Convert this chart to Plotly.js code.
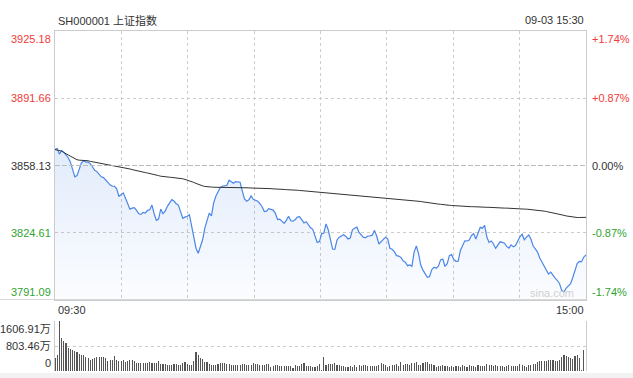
<!DOCTYPE html>
<html><head><meta charset="utf-8">
<script src="https://cdn.plot.ly/plotly-3.0.1.min.js"></script>
<style>html,body{margin:0;padding:0;background:#fff;}#chart{width:633px;height:378px;}</style>
</head><body><div id="chart"></div>
<script>
// ---- data ----
const title = "SH000001 上证指数";
const stamp = "09-03 15:30";
const preClose = 3858.13;
const priceTicks = [3925.18, 3891.66, 3858.13, 3824.61, 3791.09];
const pctTicks = ["+1.74%", "+0.87%", "0.00%", "-0.87%", "-1.74%"];
const volTicks = [1606.91, 803.46, 0];
const volTickText = ["1606.91万", "803.46万", "0"];
const timeLabels = ["09:30", "15:00"];

const price = [
3866.1,3866.6,3863.8,3865.6,3864.8,3863.5,3862.0,3859.8,3856.5,3852.5,
3853.1,3856.5,3859.5,3860.5,3859.8,3859.8,3859.1,3857.5,3855.8,3855.1,
3853.8,3852.5,3852.1,3850.8,3849.8,3848.5,3847.8,3847.8,3846.5,3842.8,
3843.6,3844.5,3841.8,3838.6,3836.4,3836.9,3837.1,3835.8,3834.1,3833.8,
3834.8,3834.4,3835.8,3836.1,3838.4,3834.1,3830.8,3831.4,3836.4,3834.1,
3835.4,3837.8,3839.4,3841.1,3840.4,3839.1,3838.4,3835.4,3831.8,3832.4,
3832.8,3833.6,3827.8,3821.1,3816.9,3814.4,3817.8,3821.1,3826.9,3830.4,
3834.4,3833.0,3839.5,3842.8,3844.8,3847.2,3847.8,3848.0,3848.3,3850.8,
3849.8,3849.3,3850.1,3849.8,3849.8,3845.5,3841.5,3840.3,3841.0,3843.0,
3841.3,3840.8,3840.3,3839.1,3837.6,3835.2,3835.4,3836.6,3836.1,3835.9,
3834.3,3831.2,3831.4,3830.3,3829.3,3830.8,3832.8,3830.6,3830.4,3831.1,
3832.4,3832.6,3830.8,3829.5,3830.1,3828.4,3827.1,3826.3,3823.2,3819.8,
3820.2,3824.1,3824.4,3829.0,3826.1,3821.5,3816.5,3816.3,3821.0,3822.4,
3823.1,3823.6,3822.8,3821.5,3822.0,3826.1,3826.9,3827.4,3824.8,3823.3,
3822.3,3822.2,3823.0,3823.1,3823.4,3825.8,3823.0,3819.0,3820.2,3821.4,
3822.4,3821.6,3816.9,3816.4,3815.2,3813.2,3813.0,3812.3,3810.6,3809.9,
3808.2,3808.6,3807.9,3815.0,3818.0,3814.2,3808.5,3806.0,3804.1,3802.4,
3802.8,3806.2,3807.4,3806.9,3807.9,3811.1,3811.5,3807.8,3809.2,3813.2,
3813.7,3811.3,3810.4,3810.5,3815.8,3818.1,3820.6,3820.5,3821.0,3823.2,
3824.2,3821.5,3824.0,3827.3,3826.9,3828.3,3822.5,3819.8,3820.5,3819.0,
3816.8,3818.2,3820.1,3819.8,3819.4,3817.8,3817.0,3818.6,3817.6,3818.2,
3820.6,3822.6,3823.9,3821.1,3822.4,3823.5,3821.5,3818.0,3816.6,3815.0,
3812.0,3810.0,3808.0,3806.5,3804.0,3805.0,3803.2,3802.0,3800.8,3799.2,
3795.8,3795.2,3797.0,3798.0,3799.2,3802.3,3806.0,3809.3,3810.3,3810.2,
3812.5,3813.6];

const avgPrice = [
3866.1,3865.9,3865.6,3865.3,3864.6,3864.0,3863.2,3862.6,3862.0,3861.5,
3861.0,3860.8,3860.8,3860.8,3860.7,3860.5,3860.2,3860.0,3859.8,3859.6,
3859.3,3859.1,3858.9,3858.8,3858.6,3858.4,3858.3,3858.1,3857.9,3857.7,
3857.5,3857.2,3857.0,3856.7,3856.4,3856.1,3855.8,3855.6,3855.3,3855.1,
3854.9,3854.6,3854.4,3854.2,3854.0,3853.7,3853.4,3853.1,3852.8,3852.6,
3852.5,3852.4,3852.3,3852.2,3852.1,3852.0,3851.9,3851.7,3851.5,3851.2,
3850.9,3850.6,3850.2,3849.7,3849.2,3848.7,3848.3,3848.0,3847.7,3847.5,
3847.4,3847.4,3847.3,3847.3,3847.3,3847.3,3847.3,3847.3,3847.3,3847.3,
3847.3,3847.3,3847.3,3847.2,3847.2,3847.1,3847.1,3847.0,3847.0,3846.9,
3846.9,3846.9,3846.8,3846.8,3846.8,3846.7,3846.7,3846.6,3846.6,3846.5,
3846.5,3846.4,3846.4,3846.3,3846.2,3846.1,3846.1,3846.0,3845.9,3845.9,
3845.8,3845.7,3845.6,3845.5,3845.4,3845.3,3845.3,3845.2,3845.1,3845.0,
3844.9,3844.8,3844.7,3844.7,3844.6,3844.5,3844.4,3844.3,3844.2,3844.2,
3844.1,3844.0,3843.9,3843.8,3843.7,3843.6,3843.5,3843.4,3843.3,3843.2,
3843.1,3843.0,3842.9,3842.8,3842.7,3842.6,3842.5,3842.4,3842.2,3842.1,
3841.9,3841.8,3841.7,3841.6,3841.5,3841.4,3841.3,3841.2,3841.1,3841.0,
3840.9,3840.8,3840.7,3840.6,3840.5,3840.3,3840.2,3840.0,3839.8,3839.7,
3839.5,3839.3,3839.1,3839.0,3838.9,3838.8,3838.6,3838.5,3838.4,3838.3,
3838.2,3838.1,3838.0,3837.9,3837.9,3837.8,3837.8,3837.7,3837.7,3837.6,
3837.6,3837.5,3837.5,3837.5,3837.4,3837.4,3837.3,3837.3,3837.2,3837.2,
3837.1,3837.1,3837.0,3837.0,3836.9,3836.9,3836.8,3836.8,3836.7,3836.6,
3836.6,3836.5,3836.5,3836.4,3836.4,3836.3,3836.3,3836.2,3836.1,3836.0,
3835.8,3835.6,3835.4,3835.2,3835.0,3834.8,3834.6,3834.3,3834.0,3833.8,
3833.5,3833.3,3833.0,3832.8,3832.6,3832.4,3832.3,3832.2,3832.2,3832.2,
3832.3,3832.3];

const volume = [
420,510,1607,1050,970,900,740,700,670,650,
610,560,520,500,440,410,350,380,420,460,
460,460,460,410,310,340,340,480,340,320,
330,350,300,310,340,340,320,270,260,250,
250,250,250,290,270,250,270,310,220,220,
210,180,180,190,210,210,190,200,260,290,
230,200,200,320,600,500,430,370,280,280,
220,200,190,200,230,250,260,250,230,210,
200,190,200,200,190,230,210,200,180,190,
250,230,210,180,190,200,230,240,120,170,
180,180,160,170,170,170,160,160,110,200,
150,160,230,250,160,150,150,120,120,150,
240,30,447,180,223,223,223,255,202,181,
160,149,128,138,160,138,181,128,191,170,
181,181,170,160,160,160,160,202,245,213,
191,138,170,181,191,223,149,287,202,213,
223,202,245,266,277,181,202,255,287,277,
223,234,202,138,149,160,191,149,170,138,
170,138,160,160,138,191,149,138,191,160,
160,138,191,160,149,149,223,191,181,160,
181,149,160,149,138,160,181,170,149,170,
160,223,181,170,138,181,191,213,234,287,
319,319,319,330,340,351,351,319,319,351,
436,511,479,436,404,372,479,511,420,30,
670];

// ---- chart ----
const idx = price.map((_, i) => i);
const vidx = volume.map((_, i) => i);
const N = 241;
const F = "Liberation Sans, Arial, Noto Sans CJK SC, sans-serif";
const red = "#f33a3a", green = "#2fa32f", dark = "#333333";
const lblColors = [red, red, dark, green, green];

const traces = [
  {x: idx, y: price, type: "scatter", mode: "lines", fill: "tozeroy",
   line: {color: "#4a86e8", width: 1.2},
   fillgradient: {type: "vertical", start: priceTicks[4], stop: 3866,
     colorscale: [[0, "rgba(74,134,232,0.02)"], [1, "rgba(74,134,232,0.16)"]]},
   xaxis: "x", yaxis: "y", hoverinfo: "skip"},
  {x: idx, y: avgPrice, type: "scatter", mode: "lines",
   line: {color: "#333333", width: 1}, xaxis: "x", yaxis: "y", hoverinfo: "skip"},
  {x: vidx, y: volume, type: "bar", marker: {color: "#555555", line: {width: 0}},
   width: 0.5, xaxis: "x2", yaxis: "y2", hoverinfo: "skip"}
];

const vgrid = [1,2,3,4,5,6,7].map(k => k * N / 8);
const annotations = [];
priceTicks.forEach((v, k) => {
  const ya = k === 0 ? "top" : (k === 4 ? "bottom" : "middle");
  annotations.push({xref: "paper", yref: "y", x: 0, y: v, xanchor: "right", yanchor: ya,
    xshift: -2, text: v.toFixed(2), showarrow: false, font: {family: F, size: 11, color: lblColors[k]}});
  annotations.push({xref: "paper", yref: "y", x: 1, y: v, xanchor: "left", yanchor: ya,
    xshift: 4, text: pctTicks[k], showarrow: false, font: {family: F, size: 11, color: lblColors[k]}});
});
volTicks.forEach((v, k) => {
  const ya = k === 0 ? "top" : (k === 2 ? "bottom" : "middle");
  annotations.push({xref: "paper", yref: "y2", x: 0, y: v, xanchor: "right", yanchor: ya,
    xshift: -2, text: volTickText[k], showarrow: false, font: {family: F, size: 11, color: dark}});
});
annotations.push({xref: "paper", yref: "paper", x: 0, y: 1.032, xanchor: "left", yanchor: "middle",
  xshift: 1, text: title, showarrow: false, font: {family: F, size: 11, color: dark}});
annotations.push({xref: "paper", yref: "paper", x: 1, y: 1.032, xanchor: "right", yanchor: "middle",
  text: stamp, showarrow: false, font: {family: F, size: 11, color: dark}});
annotations.push({xref: "paper", yref: "paper", x: 0, y: 0.179, xanchor: "left", yanchor: "middle",
  xshift: 1, text: timeLabels[0], showarrow: false, font: {family: F, size: 11, color: dark}});
annotations.push({xref: "paper", yref: "paper", x: 1, y: 0.179, xanchor: "right", yanchor: "middle",
  text: timeLabels[1], showarrow: false, font: {family: F, size: 11, color: dark}});
annotations.push({xref: "paper", yref: "y", x: 1, y: priceTicks[4], xanchor: "right", yanchor: "bottom",
  xshift: -10, yshift: -1, text: "sina.com", showarrow: false, font: {family: F, size: 11, color: "#d0d0d0"}});

const shapes = [
  {type: "line", xref: "paper", yref: "y", x0: 0, x1: 1, y0: preClose, y1: preClose,
   line: {color: "#bbbbbb", width: 1, dash: "5px,2px"}},
  {type: "line", xref: "paper", yref: "y", x0: -0.1037, x1: 1, y0: priceTicks[4], y1: priceTicks[4],
   line: {color: "#cccccc", width: 1.5}},
  {type: "rect", xref: "paper", yref: "paper", x0: -0.11, x1: 1.1, y0: -0.022, y1: -0.006,
   fillcolor: "#f2f2f2", line: {width: 0}, layer: "below"}
];

const layout = {
  width: 633, height: 378,
  margin: {l: 55, r: 47, t: 31, b: 7},
  paper_bgcolor: "#ffffff", plot_bgcolor: "#ffffff",
  showlegend: false,
  xaxis: {range: [0, N], tickvals: vgrid, showticklabels: false, ticks: "",
    showgrid: true, gridcolor: "#cccccc", griddash: "dot", gridwidth: 1,
    zeroline: false, showline: true, mirror: true, linecolor: "#cccccc", linewidth: 1,
    anchor: "y", fixedrange: true},
  yaxis: {domain: [0.2088, 1], range: [priceTicks[4], priceTicks[0]],
    tickvals: [priceTicks[1], priceTicks[3]], showticklabels: false, ticks: "",
    showgrid: true, gridcolor: "#cccccc", griddash: "dot", gridwidth: 1,
    zeroline: false, showline: true, mirror: true, linecolor: "#cccccc", linewidth: 1,
    anchor: "x", fixedrange: true},
  xaxis2: {range: [0, N], showticklabels: false, ticks: "", showgrid: false,
    zeroline: false, showline: false, anchor: "y2", fixedrange: true},
  yaxis2: {domain: [0, 0.147], range: [0, volTicks[0]], tickvals: [volTicks[1], volTicks[0]],
    showticklabels: false, ticks: "", showgrid: true, gridcolor: "#cccccc", griddash: "dot",
    gridwidth: 1, zeroline: false, showline: true, mirror: true, linecolor: "#cccccc",
    linewidth: 1, anchor: "x2", fixedrange: true},
  bargap: 0,
  annotations: annotations,
  shapes: shapes
};

Plotly.newPlot("chart", traces, layout, {staticPlot: true, displayModeBar: false});
</script>
</body></html>
